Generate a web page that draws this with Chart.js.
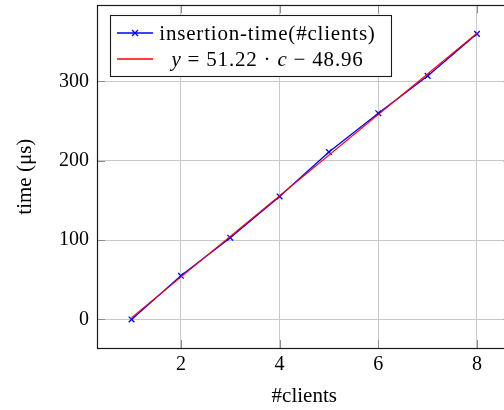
<!DOCTYPE html>
<html><head><meta charset="utf-8">
<script src="https://cdn.jsdelivr.net/npm/chart.js@4"></script>
<style>
html,body{margin:0;padding:0;overflow:hidden;background:#fff}
#wrap{width:504px;height:410px;overflow:hidden;position:relative}
#wrap canvas{position:absolute;left:0;top:0}
</style></head><body>
<div id="wrap"><canvas id="c" width="520" height="410" style="width:520px;height:410px"></canvas></div>
<script>
const clients = [1, 2, 3, 4, 5, 6, 7, 8];
const insertionTime = [0, 55, 103, 155, 211, 260, 307, 360];
const fitClients = [1, 8];
const fitTime = [2.3, 360.8];
const xTicks = [2, 4, 6, 8];
const yTicks = [0, 100, 200, 300];
const seriesLabels = ['insertion-time(#clients)', 'y = 51.22 · c − 48.96'];
const xTitle = '#clients';
const yTitle = 'time (μs)';

const BLUE = '#0000ff', RED = '#ff0000';
const FONT = "'Liberation Serif', 'DejaVu Serif', serif";
const FS = 20;

const framePlugin = {
  id: 'frame',
  afterDraw(chart) {
    const ctx = chart.ctx, a = chart.chartArea;
    const xs = chart.scales.x, ys = chart.scales.y;
    ctx.save();
    ctx.strokeStyle = '#8c8c8c';
    ctx.lineWidth = 1;
    const L = 8;
    xTicks.forEach(v => {
      const px = Math.round(xs.getPixelForValue(v)) + 0.5;
      ctx.beginPath();
      ctx.moveTo(px, a.bottom); ctx.lineTo(px, a.bottom - L);
      ctx.moveTo(px, a.top); ctx.lineTo(px, a.top + L);
      ctx.stroke();
    });
    yTicks.forEach(v => {
      const py = Math.round(ys.getPixelForValue(v)) + 0.5;
      ctx.beginPath();
      ctx.moveTo(a.left, py); ctx.lineTo(a.left + L, py);
      ctx.moveTo(a.right, py); ctx.lineTo(a.right - L, py);
      ctx.stroke();
    });
    ctx.strokeStyle = '#1a1a1a';
    ctx.lineWidth = 1.2;
    ctx.strokeRect(Math.round(a.left) + 0.5, Math.round(a.top) + 0.5,
                   Math.round(a.right) - Math.round(a.left), Math.round(a.bottom) - Math.round(a.top));

    // legend
    const bx = 110.5, by = 15.5, bw = 281, bh = 61;
    ctx.fillStyle = '#fff';
    ctx.fillRect(bx, by, bw, bh);
    ctx.strokeStyle = '#1a1a1a';
    ctx.lineWidth = 1.1;
    ctx.strokeRect(bx, by, bw, bh);
    const ds = chart.data.datasets;
    const rows = [33, 59];
    const textCenter = 267.5;
    ctx.textBaseline = 'middle';
    ctx.strokeStyle = BLUE; ctx.lineWidth = 1.3;
    ctx.beginPath(); ctx.moveTo(117, rows[0]); ctx.lineTo(153, rows[0]); ctx.stroke();
    const mx = 135, my = rows[0], r = 3;
    ctx.beginPath(); ctx.moveTo(mx - r, my - r); ctx.lineTo(mx + r, my + r);
    ctx.moveTo(mx - r, my + r); ctx.lineTo(mx + r, my - r); ctx.stroke();
    ctx.strokeStyle = RED; ctx.lineWidth = 1.3;
    ctx.beginPath(); ctx.moveTo(117, rows[1]); ctx.lineTo(153, rows[1]); ctx.stroke();
    ctx.fillStyle = '#000';
    ctx.letterSpacing = '0.8px';
    ctx.font = `21px ${FONT}`;
    ctx.textAlign = 'center';
    ctx.fillText(ds[0].label, textCenter, rows[0] + 1);
    const parts = [['y', 'italic'], [' = 51.22 · ', 'normal'], ['c', 'italic'], [' − 48.96', 'normal']];
    let total = 0;
    parts.forEach(p => { ctx.font = `${p[1]} 21px ${FONT}`; total += ctx.measureText(p[0]).width; });
    let x = textCenter - total / 2;
    ctx.textAlign = 'left';
    parts.forEach(p => {
      ctx.font = `${p[1]} 21px ${FONT}`;
      ctx.fillText(p[0], x, rows[1] + 1);
      x += ctx.measureText(p[0]).width;
    });
    ctx.restore();
  }
};

new Chart(document.getElementById('c'), {
  type: 'line',
  data: {
    datasets: [
      {
        label: seriesLabels[0],
        data: clients.map((c, i) => ({ x: c, y: insertionTime[i] })),
        borderColor: BLUE, backgroundColor: BLUE,
        borderWidth: 1.3, pointStyle: 'crossRot', pointRadius: 4,
        pointBorderWidth: 1.3, pointBorderColor: BLUE,
        tension: 0, fill: false, order: 1
      },
      {
        label: seriesLabels[1],
        data: fitClients.map((c, i) => ({ x: c, y: fitTime[i] })),
        borderColor: RED, backgroundColor: RED,
        borderWidth: 1.1, pointRadius: 0, tension: 0, fill: false, order: 0
      }
    ]
  },
  options: {
    responsive: false, animation: false, devicePixelRatio: 1,
    layout: { padding: { left: 0, top: 4, right: 8.5, bottom: 0 } },
    plugins: { legend: { display: false }, tooltip: { enabled: false } },
    scales: {
      x: {
        type: 'linear', min: 0.3, max: 8.7,
        afterBuildTicks: s => { s.ticks = xTicks.map(v => ({ value: v })); },
        afterFit: s => { s.height = 62; s.paddingLeft = 0; s.paddingRight = 0; },
        grid: { color: '#c8c8c8', lineWidth: 1, drawTicks: false },
        border: { display: false },
        ticks: { color: '#000', padding: 5, font: { family: FONT, size: FS }, maxRotation: 0 },
        title: { display: true, text: xTitle, color: '#000', font: { family: FONT, size: 21, lineHeight: 1 }, padding: { top: 0, bottom: 3 } }
      },
      y: {
        type: 'linear', min: -36, max: 396,
        afterBuildTicks: s => { s.ticks = yTicks.map(v => ({ value: v })); },
        afterFit: s => { s.width = 97; s.paddingTop = 0; s.paddingBottom = 0; },
        grid: { color: '#c8c8c8', lineWidth: 1, drawTicks: false },
        border: { display: false },
        ticks: { color: '#000', padding: 8, font: { family: FONT, size: FS } },
        title: { display: true, text: yTitle, color: '#000', font: { family: FONT, size: 21, lineHeight: 1 }, padding: { top: 15, bottom: 0 } }
      }
    }
  },
  plugins: [framePlugin]
});
</script>
</body></html>
